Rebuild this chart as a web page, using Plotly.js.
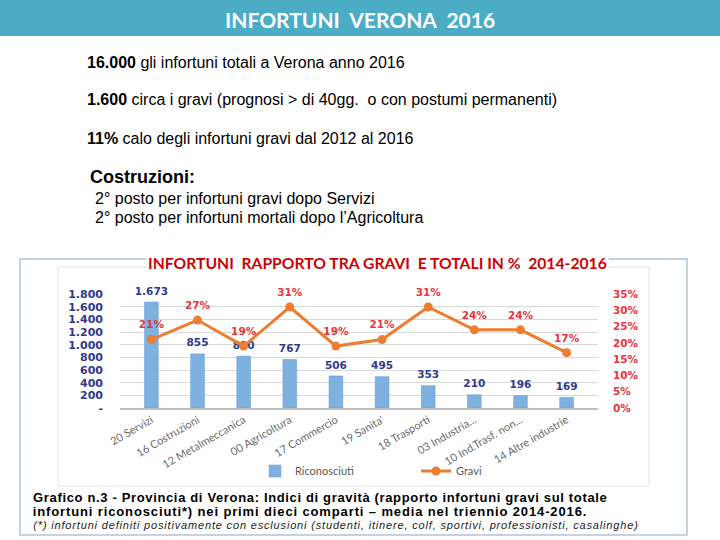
<!DOCTYPE html>
<html>
<head>
<meta charset="utf-8">
<script src="https://cdn.plot.ly/plotly-3.0.1.min.js"></script>
<style>
html,body{margin:0;padding:0;background:#fff;}
#chart{width:720px;height:540px;}
g.annotation[data-index="8"] text{letter-spacing:0.65px;}
g.annotation[data-index="9"] text{letter-spacing:0.87px;}
g.annotation[data-index="10"] text{letter-spacing:0.83px;}
</style>
</head>
<body>
<div id="chart"></div>
<script>
// ---- data ----
const categories = ["20 Servizi", "16 Costruzioni", "12 Metalmeccanica", "00 Agricoltura", "17 Commercio",
  "19 Sanita'", "18 Trasporti", "03 Industria...", "10 Ind.Trasf. non...", "14 Altre industrie"];
const riconosciuti = [1673, 855, 820, 767, 506, 495, 353, 210, 196, 169];
const gravi = [0.21, 0.27, 0.19, 0.31, 0.19, 0.21, 0.31, 0.24, 0.24, 0.17];
const leftTickVals = [0, 200, 400, 600, 800, 1000, 1200, 1400, 1600, 1800];
const leftTickText = ["-", "200", "400", "600", "800", "1.000", "1.200", "1.400", "1.600", "1.800"];
const seriesNames = ["Riconosciuti", "Gravi"];

const W = 720, H = 540;
const px = x => x / W;
const py = y => 1 - y / H;

const navy = "#2e3a8c";
const red = "#e8363c";
const barBlue = "#7eb1e0";
const orange = "#ed7d31";

const traces = [
  {
    type: "bar", x: categories, y: riconosciuti, name: seriesNames[0],
    marker: {color: barBlue, line: {color: "#6a9fd3", width: 0.5}},
    width: 0.3, hoverinfo: "skip"
  },
  {
    type: "scatter", mode: "markers+text", x: categories, y: riconosciuti, showlegend: false,
    marker: {color: "rgba(0,0,0,0)", size: 6},
    texttemplate: "%{y:,d}", textposition: "top center", cliponaxis: false,
    textfont: {family: "DejaVu Sans", size: 10.5, color: navy, weight: "bold"},
    hoverinfo: "skip"
  },
  {
    type: "scatter", mode: "lines+markers", x: categories, y: gravi, yaxis: "y2", name: seriesNames[1],
    line: {color: orange, width: 3}, marker: {color: orange, size: 9},
    cliponaxis: false, hoverinfo: "skip"
  },
  {
    type: "scatter", mode: "markers+text", x: categories, y: gravi, yaxis: "y2", showlegend: false,
    marker: {color: "rgba(0,0,0,0)", size: 12},
    texttemplate: "%{y:.0%}", textposition: "top center", cliponaxis: false,
    textfont: {family: "DejaVu Sans", size: 10.5, color: red, weight: "bold"},
    hoverinfo: "skip"
  }
];

const bodyFont = {family: "Liberation Sans, Arial, sans-serif", size: 16, color: "#000"};
function ann(text, x, y, font, extra) {
  return Object.assign({text, x: px(x), y: py(y), xref: "paper", yref: "paper",
    xanchor: "left", yanchor: "middle", showarrow: false, font}, extra || {});
}

const annotations = [
  ann("<b>INFORTUNI&nbsp; VERONA&nbsp;&nbsp;2016</b>", 360, 19,
      {family: "Lato", size: 21, color: "#fff"}, {xanchor: "center"}),
  ann("<b>16.000</b> gli infortuni totali a Verona anno 2016", 85, 62, bodyFont),
  ann("<b>1.600</b> circa i gravi (prognosi &gt; di 40gg.&nbsp; o con postumi permanenti)", 85, 100, bodyFont),
  ann("<b>11%</b> calo degli infortuni gravi dal 2012 al 2016", 85, 138, bodyFont),
  ann("<b>Costruzioni:</b>", 88, 177, {family: "Liberation Sans, Arial", size: 18, color: "#000"}),
  ann("2° posto per infortuni gravi dopo Servizi", 93, 198, bodyFont),
  ann("2° posto per infortuni mortali dopo l’Agricoltura", 93, 217, bodyFont),
  ann("<b>INFORTUNI&nbsp; RAPPORTO TRA GRAVI&nbsp; E TOTALI IN %&nbsp; 2014-2016</b>", 377, 263,
      {family: "Lato", size: 15.7, color: "#cc0000"}, {xanchor: "center", bgcolor: "#fff"}),
  ann("<b>Grafico n.3 - Provincia di Verona: Indici di gravità (rapporto infortuni gravi sul totale</b>", 320, 497,
      {family: "Liberation Sans, Arial", size: 13, color: "#000"}, {xanchor: "center"}),
  ann("<b>infortuni riconosciuti*) nei primi dieci comparti – media nel triennio 2014-2016.</b>", 309.5, 511,
      {family: "Liberation Sans, Arial", size: 13, color: "#000"}, {xanchor: "center"}),
  ann("<i>(*) infortuni definiti positivamente con esclusioni (studenti, itinere, colf, sportivi, professionisti, casalinghe)</i>", 335.5, 525,
      {family: "Liberation Sans, Arial", size: 11, color: "#222"}, {xanchor: "center"})
];

const shapes = [
  {type: "rect", xref: "paper", yref: "paper", x0: 0, x1: 1, y0: py(36), y1: 1,
   fillcolor: "#4bacc6", line: {width: 0}, layer: "below"},
  {type: "rect", xref: "paper", yref: "paper", x0: px(20), x1: px(687), y0: py(535), y1: py(259),
   fillcolor: "rgba(0,0,0,0)", line: {color: "#b4c2da", width: 1.5}, layer: "below"},
  {type: "rect", xref: "paper", yref: "paper", x0: px(58), x1: px(649), y0: py(486), y1: py(267),
   fillcolor: "rgba(0,0,0,0)", line: {color: "#e3e3e3", width: 1}, layer: "below"}
];

const layout = {
  width: W, height: H,
  margin: {l: 0, r: 0, t: 0, b: 0, pad: 0},
  paper_bgcolor: "#fff", plot_bgcolor: "rgba(0,0,0,0)",
  separators: ",.",
  showlegend: true,
  legend: {orientation: "h", x: px(255), y: py(471), xanchor: "left", yanchor: "middle",
           font: {family: "Lato", size: 11, color: "#595959"}, entrywidth: 116, bgcolor: "rgba(0,0,0,0)"},
  xaxis: {domain: [px(120), px(598)], type: "category", tickangle: -30,
          tickfont: {family: "Lato", size: 11, color: "#6b6b6b"},
          showgrid: false, showline: true, linecolor: "#bfbfbf", linewidth: 1.5, ticks: "",
          automargin: false, fixedrange: true},
  yaxis: {domain: [py(408), py(294)], range: [0, 1800], tickvals: leftTickVals, ticktext: leftTickText,
          tickfont: {family: "DejaVu Sans", size: 11, color: navy, weight: "bold"},
          showgrid: true, gridcolor: "#d9d9d9", zeroline: false, ticks: "", ticklabelstandoff: 16,
          automargin: false, fixedrange: true},
  yaxis2: {overlaying: "y", side: "right", range: [0, 0.35], dtick: 0.05, tickformat: ".0%",
           tickfont: {family: "DejaVu Sans", size: 10.5, color: red, weight: "bold"},
           showgrid: false, zeroline: false, ticks: "", ticklabelstandoff: 14,
           automargin: false, fixedrange: true},
  annotations, shapes,
  bargap: 0.7
};

Plotly.newPlot("chart", traces, layout, {staticPlot: true, displayModeBar: false});
</script>
</body>
</html>
